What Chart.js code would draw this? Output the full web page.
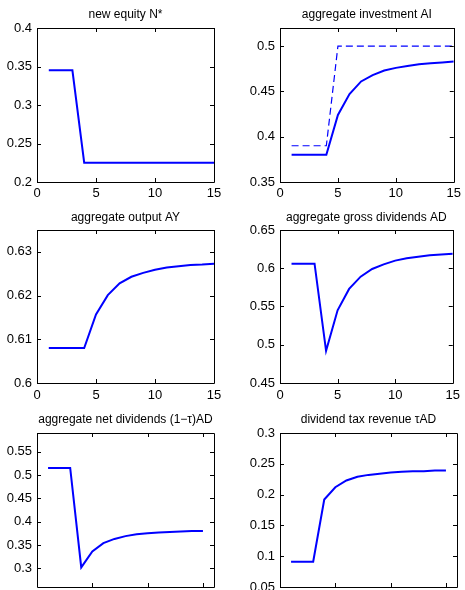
<!DOCTYPE html>
<html>
<head>
<meta charset="utf-8">
<title>aggregate responses</title>
<script src="https://cdn.jsdelivr.net/npm/chart.js@4/dist/chart.umd.min.js"></script>
<style>
    html, body {
        margin: 0;
        padding: 0;
        width: 465px;
        height: 590px;
        overflow: hidden;
        background: #fff;
    }
    canvas {
        position: absolute;
    }
</style>
</head>
<body>
<script>
// periods on the horizontal axis
const steps = [1, 2, 3, 4, 5, 6, 7, 8, 9, 10, 11, 12, 13, 14, 15];

// series
const newEquity = [0.345, 0.345, 0.345, 0.225, 0.225, 0.225, 0.225, 0.225, 0.225, 0.225, 0.225, 0.225, 0.225, 0.225, 0.225];
const investment = [0.380, 0.380, 0.380, 0.380, 0.424, 0.447, 0.461, 0.468, 0.473, 0.476, 0.478, 0.480, 0.481, 0.482, 0.483];
const investmentTarget = [0.39, 0.39, 0.39, 0.39, 0.5, 0.5, 0.5, 0.5, 0.5, 0.5, 0.5, 0.5, 0.5, 0.5, 0.5];
const output = [0.6080, 0.6080, 0.6080, 0.6080, 0.6157, 0.6201, 0.6228, 0.6243, 0.6252, 0.6259, 0.6264, 0.6267, 0.6270, 0.6271, 0.6273];
const grossDividends = [0.606, 0.606, 0.606, 0.492, 0.545, 0.573, 0.589, 0.599, 0.605, 0.610, 0.613, 0.615, 0.617, 0.618, 0.619];
const netDividends = [0.515, 0.515, 0.515, 0.302, 0.336, 0.354, 0.363, 0.369, 0.373, 0.375, 0.377, 0.378, 0.379, 0.380, 0.380];
const taxRevenue = [0.091, 0.091, 0.091, 0.192, 0.212, 0.223, 0.229, 0.232, 0.234, 0.236, 0.237, 0.238, 0.238, 0.239, 0.239];

// tick labels
const xTicks = [0, 5, 10, 15];
const equityTicks = [0.2, 0.25, 0.3, 0.35, 0.4];
const investmentTicks = [0.35, 0.4, 0.45, 0.5];
const outputTicks = [0.6, 0.61, 0.62, 0.63];
const grossTicks = [0.45, 0.5, 0.55, 0.6, 0.65];
const netTicks = [0.3, 0.35, 0.4, 0.45, 0.5, 0.55];
const taxTicks = [0.05, 0.1, 0.15, 0.2, 0.25, 0.3];

const FONT = '"Liberation Sans", Arial, Helvetica, sans-serif';
const BLUE = '#0000ff';

// one canvas per subplot, placed on a 2 x 3 grid
const panels = [
    { title: 'new equity N*', series: [newEquity], yTicks: equityTicks, yMin: 0.2, yMax: 0.4, xMax: 15,
      left: 0, top: 0, width: 232, height: 200, axisW: 37, padRight: 18, xAxisH: 18, xPad: 4, titleTop: 9, titleBottom: 7 },
    { title: 'aggregate investment AI', series: [investment, investmentTarget], yTicks: investmentTicks, yMin: 0.35, yMax: 0.52, xMax: 15,
      left: 232, top: 0, width: 233, height: 200, axisW: 48, padRight: 8, xAxisH: 18, xPad: 4, titleTop: 9, titleBottom: 7 },
    { title: 'aggregate output AY', series: [output], yTicks: outputTicks, yMin: 0.6, yMax: 0.635, xMax: 15,
      left: 0, top: 200, width: 232, height: 200, axisW: 37, padRight: 18, xAxisH: 17, xPad: 5, titleTop: 12, titleBottom: 6 },
    { title: 'aggregate gross dividends AD', series: [grossDividends], yTicks: grossTicks, yMin: 0.45, yMax: 0.65, xMax: 15,
      left: 232, top: 200, width: 233, height: 200, axisW: 48, padRight: 8, xAxisH: 17, xPad: 5, titleTop: 12, titleBottom: 6 },
    { title: 'aggregate net dividends (1\u2212\u03c4)AD', series: [netDividends], yTicks: netTicks, yMin: 0.26, yMax: 0.59, xMax: 16,
      left: 0, top: 400, width: 232, height: 205, axisW: 37, padRight: 18, xAxisH: 18, xPad: 5, titleTop: 14, titleBottom: 7 },
    { title: 'dividend tax revenue \u03c4AD', series: [taxRevenue], yTicks: taxTicks, yMin: 0.05, yMax: 0.3, xMax: 16,
      left: 232, top: 400, width: 233, height: 205, axisW: 48, padRight: 8, xAxisH: 18, xPad: 5, titleTop: 14, titleBottom: 7 }
];

// closed axes box with inward tick marks on all four sides
const boxPlugin = {
    id: 'box',
    afterDraw(chart) {
        const { ctx, chartArea: a, scales } = chart;
        const len = 4;
        ctx.save();
        ctx.strokeStyle = '#000';
        ctx.lineWidth = 1;
        ctx.beginPath();
        ctx.rect(Math.round(a.left) + 0.5, Math.round(a.top) + 0.5,
            Math.round(a.right - a.left), Math.round(a.bottom - a.top));
        scales.x.ticks.forEach(t => {
            const px = Math.round(scales.x.getPixelForValue(t.value)) + 0.5;
            ctx.moveTo(px, a.bottom);
            ctx.lineTo(px, a.bottom - len);
            ctx.moveTo(px, a.top);
            ctx.lineTo(px, a.top + len);
        });
        scales.y.ticks.forEach(t => {
            const py = Math.round(scales.y.getPixelForValue(t.value)) + 0.5;
            ctx.moveTo(a.left, py);
            ctx.lineTo(a.left + len, py);
            ctx.moveTo(a.right, py);
            ctx.lineTo(a.right - len, py);
        });
        ctx.stroke();
        ctx.restore();
    }
};

function toPoints(values) {
    return steps.map((x, i) => ({ x: x, y: values[i] }));
}

function fmt(v) {
    return String(parseFloat(v.toFixed(3)));
}

function makePanel(p) {
    const canvas = document.createElement('canvas');
    canvas.width = p.width;
    canvas.height = p.height;
    canvas.style.left = p.left + 'px';
    canvas.style.top = p.top + 'px';
    document.body.appendChild(canvas);

    const datasets = p.series.map((values, i) => ({
        data: toPoints(values),
        borderColor: BLUE,
        borderWidth: i === 0 ? 2 : 1.2,
        borderDash: i === 0 ? [] : [7, 4],
        pointRadius: 0,
        tension: 0,
        fill: false
    }));

    new Chart(canvas.getContext('2d'), {
        type: 'line',
        data: { datasets: datasets },
        options: {
            responsive: false,
            animation: false,
            layout: { padding: { left: 0, right: p.padRight, top: 0, bottom: 0 } },
            plugins: {
                legend: { display: false },
                tooltip: { enabled: false },
                title: {
                    display: true,
                    fullSize: false,   // centre over the plot area, not the canvas
                    text: p.title,
                    color: '#000',
                    font: { family: FONT, size: 12, weight: 'normal', lineHeight: 1 },
                    padding: { top: p.titleTop, bottom: p.titleBottom }
                }
            },
            scales: {
                x: {
                    type: 'linear',
                    min: 0,
                    max: p.xMax,
                    afterBuildTicks: s => { s.ticks = xTicks.map(v => ({ value: v })); },
                    afterFit: s => { s.height = p.xAxisH; },
                    grid: { display: false, drawTicks: false },
                    border: { display: false },
                    ticks: {
                        color: '#000',
                        padding: p.xPad,
                        maxRotation: 0,
                        autoSkip: false,
                        font: { family: FONT, size: 13 },
                        callback: v => String(v)
                    }
                },
                y: {
                    type: 'linear',
                    min: p.yMin,
                    max: p.yMax,
                    afterBuildTicks: s => { s.ticks = p.yTicks.map(v => ({ value: v })); },
                    afterFit: s => { s.width = p.axisW; },
                    grid: { display: false, drawTicks: false },
                    border: { display: false },
                    ticks: {
                        color: '#000',
                        padding: 5,
                        autoSkip: false,
                        font: { family: FONT, size: 13 },
                        callback: v => fmt(v)
                    }
                }
            }
        },
        plugins: [boxPlugin]
    });
}

panels.forEach(makePanel);
</script>
</body>
</html>
